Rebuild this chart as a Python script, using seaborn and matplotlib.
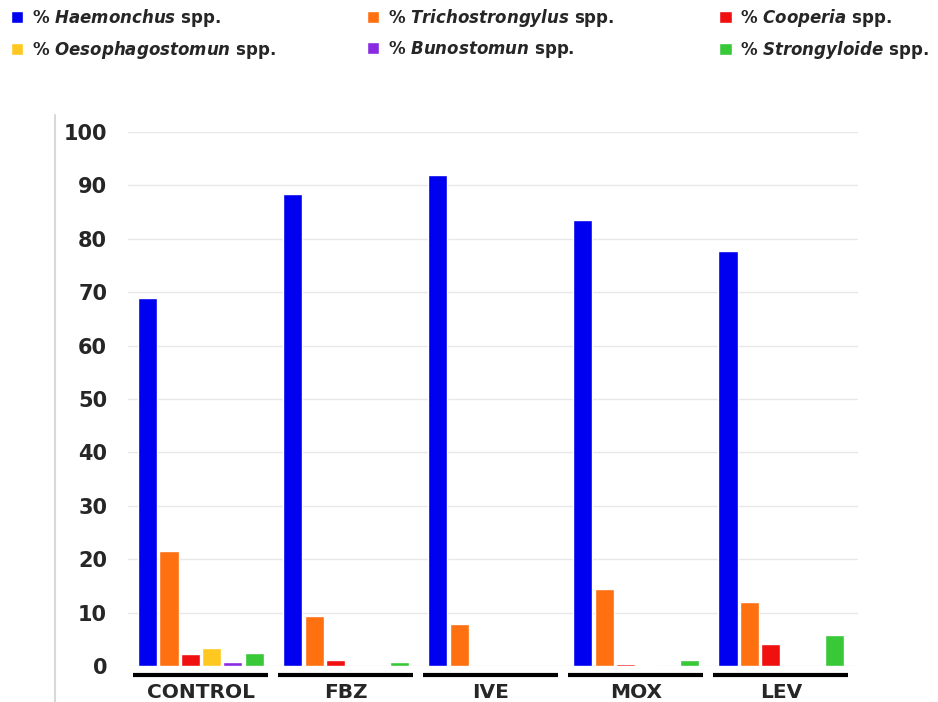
import pandas as pd
import matplotlib.pyplot as plt
import seaborn as sns
from matplotlib.lines import Line2D

# Data
GROUPS = ['CONTROL', 'FBZ', 'IVE', 'MOX', 'LEV']
SPECIES = [
    r'% $\mathit{Haemonchus}$ spp.',
    r'% $\mathit{Trichostrongylus}$ spp.',
    r'% $\mathit{Cooperia}$ spp.',
    r'% $\mathit{Oesophagostomun}$ spp.',
    r'% $\mathit{Bunostomun}$ spp.',
    r'% $\mathit{Strongyloide}$ spp.',
]
HAEMONCHUS = [69.0, 88.3, 92.0, 83.5, 77.8]
TRICHOSTRONGYLUS = [21.5, 9.3, 7.8, 14.5, 12.0]
COOPERIA = [2.2, 1.2, 0.0, 0.3, 4.2]
OESOPHAGOSTOMUN = [3.3, 0.0, 0.0, 0.2, 0.0]
BUNOSTOMUN = [0.7, 0.0, 0.0, 0.0, 0.0]
STRONGYLOIDE = [2.5, 0.8, 0.0, 1.2, 5.8]
Y_TICKS = [0, 10, 20, 30, 40, 50, 60, 70, 80, 90, 100]

COLORS = ['#0000F0', '#FF7010', '#F01010', '#FFC820', '#8A2BE2', '#38C838']

sns.set_style('white')
plt.rcParams['font.family'] = ['DejaVu Sans']
plt.rcParams['mathtext.fontset'] = 'custom'
plt.rcParams['mathtext.it'] = 'DejaVu Sans:italic:bold'
plt.rcParams['mathtext.rm'] = 'DejaVu Sans:bold'

series = [HAEMONCHUS, TRICHOSTRONGYLUS, COOPERIA, OESOPHAGOSTOMUN, BUNOSTOMUN, STRONGYLOIDE]
rows = []
for sp, vals in zip(SPECIES, series):
    for g, v in zip(GROUPS, vals):
        rows.append({'group': g, 'species': sp, 'value': v})
df = pd.DataFrame(rows)

fig = plt.figure(figsize=(9.38, 7.02), dpi=100)
ax = fig.add_axes([128 / 938, 1 - 666 / 702, 730 / 938, 534 / 702])

sns.barplot(data=df, x='group', y='value', hue='species', hue_order=SPECIES,
            order=GROUPS, palette=COLORS, width=0.88, gap=0.1,
            saturation=1, ax=ax, errorbar=None)

handles, labels = ax.get_legend_handles_labels()
ax.get_legend().remove()

ax.set_xlim(-0.503, 4.53)
ax.set_ylim(0, 100)
ax.set_yticks(Y_TICKS)
ax.set_xlabel('')
ax.set_ylabel('')
ax.grid(axis='y', color='#e8e8e8', linewidth=1)
ax.set_axisbelow(True)
for s in ax.spines.values():
    s.set_visible(False)
ax.tick_params(axis='y', length=0, pad=15, labelsize=15)
ax.tick_params(axis='x', length=0, pad=12.5, labelsize=14.5)
for lab in ax.get_yticklabels() + ax.get_xticklabels():
    lab.set_fontweight('bold')

# black underline under each group
for i in range(len(GROUPS)):
    ax.plot([i - 0.47, i + 0.46], [-0.017, -0.017], color='black', lw=3,
            transform=ax.get_xaxis_transform(), clip_on=False, solid_capstyle='butt')

# light vertical rule at the left
fig.add_artist(Line2D([55 / 938, 55 / 938], [0, 1 - 115 / 702], color='#d8d8d8', lw=1.5))

# legend in three columns
cols = [(0, 3, 0.0115), (1, 4, 0.391), (2, 5, 0.767)]
for a, b, x in cols:
    leg = fig.legend([handles[a], handles[b]], [labels[a], labels[b]],
                     loc='upper left', bbox_to_anchor=(x, 0.99), frameon=False,
                     fontsize=12, handlelength=0.75, handleheight=0.75,
                     handletextpad=0.5, labelspacing=0.6, borderaxespad=0, borderpad=0)
    for t in leg.get_texts():
        t.set_fontweight('bold')

fig.savefig('out.png', dpi=100)
